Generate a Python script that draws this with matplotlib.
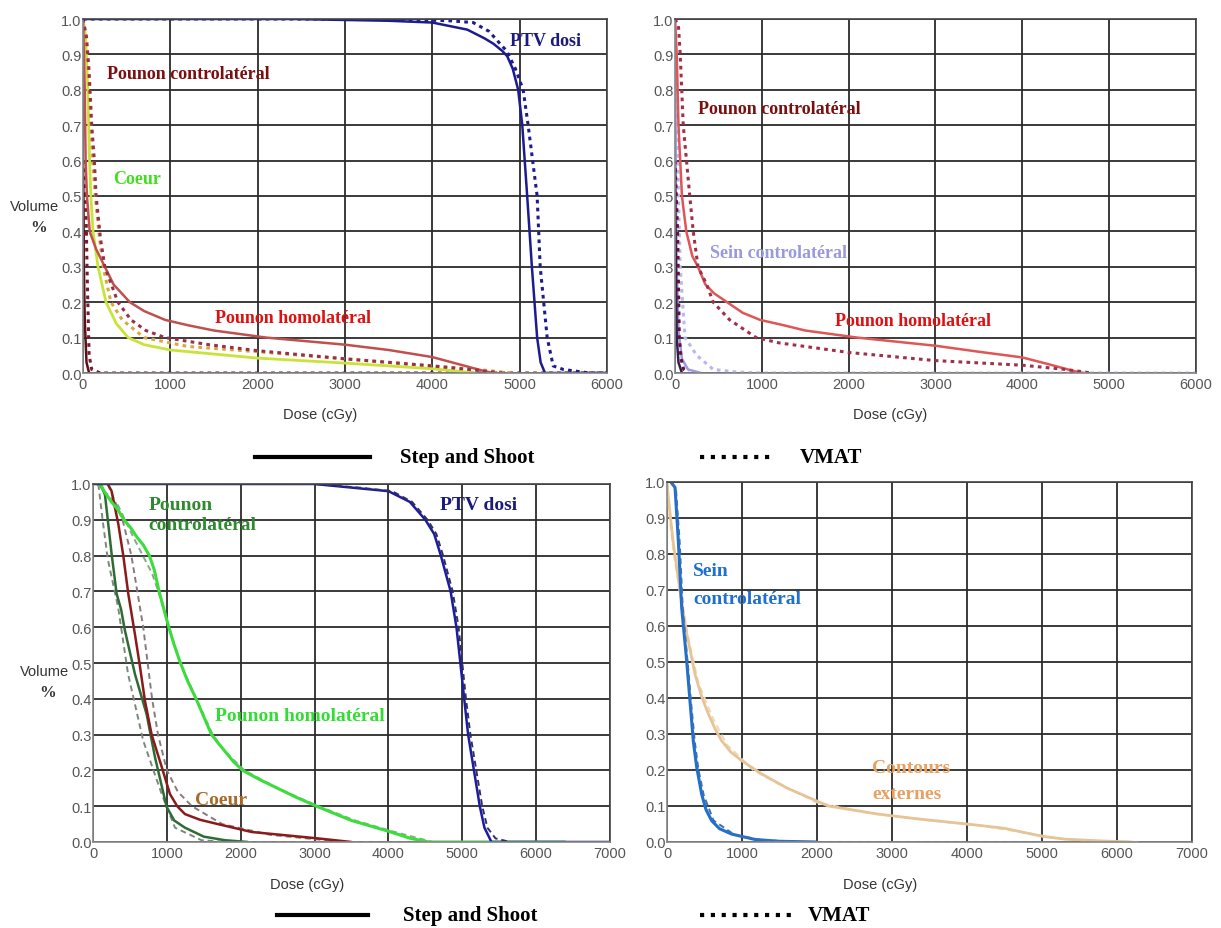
import matplotlib
matplotlib.use('Agg')
import matplotlib.pyplot as plt
from matplotlib.lines import Line2D

# ---- haut gauche (0 - 6000 cGy) ----
tl_ptv_ss_dose = [0, 2400, 3500, 4000, 4400, 4600, 4700, 4800, 4857, 4920, 4983, 5030, 5086, 5140, 5200, 5240, 5290, 6000]
tl_ptv_ss_vol = [1.0, 1.0, 0.995, 0.99, 0.97, 0.945, 0.93, 0.91, 0.895, 0.86, 0.80, 0.70, 0.50, 0.30, 0.10, 0.03, 0.0, 0.0]
tl_ptv_vm_dose = [0, 3500, 4200, 4467, 4650, 4776, 4850, 4950, 5040, 5097, 5200, 5235, 5315, 5384, 5500, 5800, 6000]
tl_ptv_vm_vol = [1.0, 1.0, 0.995, 0.99, 0.965, 0.93, 0.91, 0.86, 0.80, 0.70, 0.50, 0.30, 0.10, 0.02, 0.01, 0.0, 0.0]
tl_homo_ss_dose = [0, 10, 20, 30, 45, 77, 150, 250, 350, 536, 700, 940, 1200, 1500, 2100, 3000, 3500, 4000, 4300, 4600, 4700]
tl_homo_ss_vol = [1.0, 0.92, 0.8, 0.6, 0.5, 0.4, 0.35, 0.3, 0.25, 0.2, 0.175, 0.15, 0.135, 0.12, 0.10, 0.08, 0.065, 0.045, 0.025, 0.005, 0.0]
tl_homo_vm_dose = [0, 40, 70, 100, 130, 150, 200, 250, 400, 550, 720, 940, 1440, 2000, 3000, 4000, 4500, 4800]
tl_homo_vm_vol = [1.0, 0.95, 0.85, 0.7, 0.6, 0.5, 0.38, 0.3, 0.2, 0.15, 0.12, 0.1, 0.08, 0.063, 0.04, 0.02, 0.008, 0.0]
tl_coeur_ss_dose = [0, 30, 55, 75, 90, 115, 172, 264, 380, 517, 700, 1000, 2000, 3000, 3500, 4000, 4500]
tl_coeur_ss_vol = [1.0, 0.95, 0.8, 0.6, 0.5, 0.4, 0.3, 0.2, 0.14, 0.1, 0.08, 0.065, 0.042, 0.028, 0.02, 0.012, 0.0]
tl_coeur_vm_dose = [0, 50, 80, 110, 140, 180, 230, 320, 450, 700, 1200, 2000, 3000, 4000, 4600, 4900]
tl_coeur_vm_vol = [1.0, 0.9, 0.75, 0.6, 0.5, 0.4, 0.3, 0.2, 0.15, 0.1, 0.075, 0.06, 0.04, 0.02, 0.008, 0.0]
tl_contro_ss_dose = [0, 5, 10, 20, 40, 70]
tl_contro_ss_vol = [0.6, 0.5, 0.3, 0.15, 0.03, 0.0]
tl_contro_vm_dose = [0, 20, 35, 50, 70, 100, 200, 6000]
tl_contro_vm_vol = [0.6, 0.55, 0.45, 0.25, 0.05, 0.01, 0.0, 0.0]

# ---- haut droite (0 - 6000 cGy) ----
tr_homo_ss_dose = [0, 10, 20, 40, 60, 80, 130, 200, 265, 350, 450, 600, 780, 980, 1250, 1500, 2100, 3000, 3500, 4000, 4300, 4600, 4700]
tr_homo_ss_vol = [1.0, 0.95, 0.9, 0.7, 0.6, 0.5, 0.4, 0.33, 0.3, 0.25, 0.225, 0.2, 0.17, 0.15, 0.135, 0.12, 0.10, 0.077, 0.06, 0.044, 0.025, 0.005, 0.0]
tr_homo_vm_dose = [0, 40, 60, 95, 170, 210, 265, 365, 440, 630, 935, 1200, 2000, 3000, 4000, 4500, 4800]
tr_homo_vm_vol = [1.0, 0.98, 0.9, 0.7, 0.5, 0.4, 0.3, 0.25, 0.2, 0.15, 0.1, 0.085, 0.058, 0.035, 0.022, 0.01, 0.0]
tr_sein_ss_dose = [0, 5, 10, 20, 40, 80, 150, 300]
tr_sein_ss_vol = [1.0, 0.8, 0.5, 0.3, 0.12, 0.04, 0.01, 0.0]
tr_sein_vm_dose = [0, 20, 40, 60, 115, 250, 440, 700, 1000, 6000]
tr_sein_vm_vol = [1.0, 0.8, 0.5, 0.3, 0.1, 0.05, 0.01, 0.003, 0.0, 0.0]
tr_contro_ss_dose = [0, 10, 20, 40, 80]
tr_contro_ss_vol = [0.58, 0.3, 0.1, 0.03, 0.0]
tr_contro_vm_dose = [0, 30, 50, 70, 100, 150]
tr_contro_vm_vol = [0.6, 0.4, 0.1, 0.04, 0.01, 0.0]

# ---- bas gauche (0 - 7000 cGy) ----
bl_ptv_ss_dose = [0, 3000, 3500, 4000, 4290, 4500, 4620, 4710, 4842, 4921, 4974, 5026, 5079, 5158, 5237, 5300, 5395, 7000]
bl_ptv_ss_vol = [1.0, 1.0, 0.99, 0.98, 0.95, 0.9, 0.86, 0.8, 0.7, 0.6, 0.5, 0.4, 0.3, 0.2, 0.1, 0.04, 0.0, 0.0]
bl_ptv_vm_dose = [0, 3000, 3600, 4050, 4320, 4530, 4650, 4740, 4870, 4950, 5000, 5050, 5110, 5190, 5270, 5340, 5450, 5650]
bl_ptv_vm_vol = [1.0, 1.0, 0.99, 0.98, 0.95, 0.9, 0.86, 0.8, 0.7, 0.6, 0.5, 0.4, 0.3, 0.2, 0.1, 0.04, 0.01, 0.0]
bl_homo_ss_dose = [100, 150, 250, 330, 421, 520, 600, 680, 763, 830, 895, 960, 1026, 1100, 1184, 1280, 1395, 1500, 1605, 1700, 1800, 1900, 2026, 2250, 2500, 2750, 3026, 3500, 4000, 4300, 4550, 6400]
bl_homo_ss_vol = [1.0, 0.98, 0.95, 0.93, 0.9, 0.875, 0.85, 0.83, 0.8, 0.76, 0.7, 0.65, 0.6, 0.55, 0.5, 0.45, 0.4, 0.35, 0.3, 0.275, 0.25, 0.225, 0.2, 0.175, 0.15, 0.125, 0.1, 0.06, 0.03, 0.01, 0.0, 0.0]
bl_homo_vm_dose = [50, 200, 340, 550, 800, 900, 1000, 1180, 1400, 1620, 1800, 2050, 2500, 3050, 3550, 4050, 4600, 6400]
bl_homo_vm_vol = [1.0, 0.97, 0.94, 0.85, 0.75, 0.69, 0.62, 0.5, 0.4, 0.3, 0.25, 0.2, 0.15, 0.1, 0.06, 0.03, 0.0, 0.0]
bl_coeur_ss_dose = [200, 252, 343, 410, 478, 568, 636, 703, 794, 930, 1042, 1140, 1245, 1450, 1691, 2147, 3048, 3500]
bl_coeur_ss_vol = [1.0, 0.98, 0.888, 0.80, 0.693, 0.58, 0.49, 0.395, 0.30, 0.21, 0.134, 0.1, 0.078, 0.062, 0.05, 0.028, 0.01, 0.0]
bl_coeur_vm_dose = [200, 400, 520, 600, 680, 740, 800, 880, 1000, 1150, 1340, 1750, 2400, 3400]
bl_coeur_vm_vol = [1.0, 0.9, 0.8, 0.7, 0.6, 0.5, 0.4, 0.3, 0.2, 0.14, 0.1, 0.05, 0.02, 0.0]
bl_contro_ss_dose = [100, 162, 252, 320, 380, 433, 568, 726, 839, 997, 1100, 1245, 1500, 1786, 2100]
bl_contro_ss_vol = [1.0, 0.97, 0.805, 0.693, 0.65, 0.59, 0.469, 0.357, 0.237, 0.098, 0.06, 0.04, 0.015, 0.005, 0.0]
bl_contro_vm_dose = [72, 130, 200, 340, 474, 680, 930, 1110, 1470, 1800, 7000]
bl_contro_vm_vol = [1.0, 0.9, 0.79, 0.656, 0.47, 0.283, 0.134, 0.04, 0.005, 0.0, 0.0]

# ---- bas droite (0 - 7000 cGy) ----
br_sein_ss_dose = [50, 107, 151, 196, 262, 307, 351, 396, 462, 520, 596, 700, 862, 1173, 1500, 2000]
br_sein_ss_vol = [1.0, 0.985, 0.837, 0.65, 0.504, 0.39, 0.28, 0.208, 0.133, 0.09, 0.059, 0.037, 0.022, 0.007, 0.002, 0.0]
br_sein_vm_dose = [60, 120, 170, 210, 275, 320, 370, 420, 490, 620, 900, 1250, 1700, 5000]
br_sein_vm_vol = [1.0, 0.98, 0.83, 0.65, 0.5, 0.39, 0.28, 0.2, 0.13, 0.06, 0.02, 0.006, 0.0, 0.0]
br_ext_ss_dose = [0, 13, 80, 173, 262, 373, 460, 551, 640, 729, 850, 996, 1262, 1600, 2150, 2800, 3307, 4000, 4500, 5000, 5300, 5800, 6200]
br_ext_ss_vol = [1.0, 0.967, 0.837, 0.698, 0.58, 0.467, 0.405, 0.356, 0.315, 0.281, 0.25, 0.226, 0.189, 0.15, 0.1, 0.078, 0.065, 0.05, 0.038, 0.016, 0.008, 0.003, 0.0]
br_ext_vm_dose = [0, 20, 90, 200, 300, 420, 620, 800, 1150, 1500, 2000, 2700, 3500, 4200, 4800, 5200, 5600, 6300]
br_ext_vm_vol = [1.0, 0.93, 0.8, 0.66, 0.55, 0.44, 0.34, 0.27, 0.2, 0.16, 0.11, 0.08, 0.06, 0.045, 0.025, 0.01, 0.003, 0.0]

W, H = 1221, 929
fig = plt.figure(figsize=(W / 100, H / 100), dpi=100)
fig.patch.set_facecolor('white')

serif = 'Liberation Serif'
sans = 'Liberation Sans'


def panneau(x0, x1, ytop, ybot, xmax):
    ax = fig.add_axes([x0 / W, 1 - ybot / H, (x1 - x0) / W, (ybot - ytop) / H])
    ax.set_xlim(0, xmax)
    ax.set_ylim(0, 1)
    ax.set_xticks(range(0, xmax + 1, 1000))
    ax.set_yticks([i / 10 for i in range(11)])
    ax.set_yticklabels(['%.1f' % (i / 10) for i in range(11)])
    ax.grid(True, color='#2b2b2b', linewidth=1.3)
    ax.set_axisbelow(True)
    ax.tick_params(length=0, labelsize=10.5, labelcolor='#555555')
    ax.tick_params(axis='y', pad=1)
    ax.tick_params(axis='x', pad=3)
    for lab in ax.get_xticklabels() + ax.get_yticklabels():
        lab.set_family(sans)
    for s in ax.spines.values():
        s.set_color('#444444')
        s.set_linewidth(1.2)
    ax.spines['left'].set_color('#888888')
    ax.spines['bottom'].set_color('#888888')
    return ax


def ss(ax, d, v, c, lw=1.8):
    ax.plot(d, v, color=c, linewidth=lw, solid_capstyle='butt', solid_joinstyle='round')


def vm(ax, d, v, c, lw=2.2, dash=(1.2, 1.4)):
    ax.plot(d, v, color=c, linewidth=lw, linestyle=(0, dash))


# haut gauche
ax1 = panneau(83, 607, 20, 374, 6000)
vm(ax1, tl_contro_vm_dose, tl_contro_vm_vol, '#7a1a2a')
ss(ax1, tl_contro_ss_dose, tl_contro_ss_vol, '#5a0f1a')
ss(ax1, tl_coeur_ss_dose, tl_coeur_ss_vol, '#c9e33a', 2.0)
vm(ax1, tl_coeur_vm_dose, tl_coeur_vm_vol, '#d9a640')
ss(ax1, tl_homo_ss_dose, tl_homo_ss_vol, '#c0504d')
vm(ax1, tl_homo_vm_dose, tl_homo_vm_vol, '#9a3048')
ss(ax1, tl_ptv_ss_dose, tl_ptv_ss_vol, '#1c1c90')
vm(ax1, tl_ptv_vm_dose, tl_ptv_vm_vol, '#1c1c90')
ax1.text(275, 0.845, 'Pounon controlatéral', color='#7a0f0f', fontsize=13, fontweight='bold', family=serif, va='center')
ax1.text(350, 0.55, 'Coeur', color='#44dd22', fontsize=13, fontweight='bold', family=serif, va='center')
ax1.text(1512, 0.157, 'Pounon homolatéral', color='#dd1111', fontsize=13, fontweight='bold', family=serif, va='center')
ax1.text(4890, 0.94, 'PTV dosi', color='#1a1a80', fontsize=13, fontweight='bold', family=serif, va='center')

# haut droite
ax2 = panneau(675, 1196, 20, 374, 6000)
vm(ax2, tr_sein_vm_dose, tr_sein_vm_vol, '#b8b8f0')
ss(ax2, tr_sein_ss_dose, tr_sein_ss_vol, '#9a9ae8')
ss(ax2, tr_contro_ss_dose, tr_contro_ss_vol, '#302050')
vm(ax2, tr_contro_vm_dose, tr_contro_vm_vol, '#6a1030')
ss(ax2, tr_homo_ss_dose, tr_homo_ss_vol, '#e05555')
vm(ax2, tr_homo_vm_dose, tr_homo_vm_vol, '#a0304a')
ax2.text(265, 0.746, 'Pounon controlatéral', color='#7a0f0f', fontsize=13, fontweight='bold', family=serif, va='center')
ax2.text(403, 0.339, 'Sein controlatéral', color='#9999dd', fontsize=13, fontweight='bold', family=serif, va='center')
ax2.text(1843, 0.147, 'Pounon homolatéral', color='#dd1111', fontsize=13, fontweight='bold', family=serif, va='center')

# bas gauche
ax3 = panneau(93, 610, 485, 843, 7000)
vm(ax3, bl_contro_vm_dose, bl_contro_vm_vol, '#7a8a7a', 1.4, (3, 2))
vm(ax3, bl_coeur_vm_dose, bl_coeur_vm_vol, '#8a7a7a', 1.4, (3, 2))
vm(ax3, bl_homo_vm_dose, bl_homo_vm_vol, '#8aa88a', 1.4, (3, 2))
ss(ax3, bl_contro_ss_dose, bl_contro_ss_vol, '#2e6b35')
ss(ax3, bl_coeur_ss_dose, bl_coeur_ss_vol, '#8b1a1a')
ss(ax3, bl_homo_ss_dose, bl_homo_ss_vol, '#3ddc3d', 2.2)
ss(ax3, bl_ptv_ss_dose, bl_ptv_ss_vol, '#1c1ca0')
vm(ax3, bl_ptv_vm_dose, bl_ptv_vm_vol, '#303060', 1.4, (3, 2))
ax3.text(760, 0.944, 'Pounon', color='#2e8a2e', fontsize=14, fontweight='bold', family=serif, va='center')
ax3.text(744, 0.888, 'controlatéral', color='#2e8a2e', fontsize=14, fontweight='bold', family=serif, va='center')
ax3.text(4700, 0.944, 'PTV dosi', color='#1a1a80', fontsize=14, fontweight='bold', family=serif, va='center')
ax3.text(1650, 0.352, 'Pounon homolatéral', color='#33dd33', fontsize=14, fontweight='bold', family=serif, va='center')
ax3.text(1380, 0.12, 'Coeur', color='#a86a2a', fontsize=14, fontweight='bold', family=serif, va='center')

# bas droite
ax4 = panneau(667, 1192, 483, 843, 7000)
vm(ax4, br_ext_vm_dose, br_ext_vm_vol, '#f0d8b0', 1.5, (3, 2))
ss(ax4, br_ext_ss_dose, br_ext_ss_vol, '#e6c497', 2.0)
ss(ax4, br_sein_ss_dose, br_sein_ss_vol, '#1f6fd0', 2.2)
vm(ax4, br_sein_vm_dose, br_sein_vm_vol, '#3a70b0', 1.4, (3, 2))
ax4.text(347, 0.754, 'Sein', color='#1e6fd0', fontsize=14, fontweight='bold', family=serif, va='center')
ax4.text(347, 0.675, 'controlatéral', color='#1e6fd0', fontsize=14, fontweight='bold', family=serif, va='center')
ax4.text(2733, 0.208, 'Contours', color='#e8a060', fontsize=14, fontweight='bold', family=serif, va='center')
ax4.text(2733, 0.136, 'externes', color='#e8a060', fontsize=14, fontweight='bold', family=serif, va='center')

# libellés des axes
for xv, yv in [(35, 207), (44, 672)]:
    fig.text(xv / W, 1 - yv / H, 'Volume', fontsize=10.5, family=sans, color='#333333', ha='center', va='center')
    fig.text((xv + 4) / W, 1 - (yv + 21) / H, '%', fontsize=12, family=serif, fontweight='bold', color='#333333', ha='center', va='center')
for xv, yv in [(320, 415), (890, 415), (307, 885), (880, 885)]:
    fig.text(xv / W, 1 - yv / H, 'Dose (cGy)', fontsize=10.5, family=sans, color='#333333', ha='center', va='center')

# légendes
for yl, l0, l1, t0, d0, d1, v0 in [(458, 255, 370, 400, 700, 775, 800), (916, 277, 368, 403, 700, 791, 808)]:
    y = 1 - yl / H
    fig.add_artist(Line2D([l0 / W, l1 / W], [y, y], color='black', linewidth=3))
    fig.add_artist(Line2D([d0 / W, d1 / W], [y, y], color='black', linewidth=3, linestyle=(0, (1.0, 1.6))))
    fig.text(t0 / W, y, 'Step and Shoot', fontsize=15, family=serif, fontweight='bold', va='center')
    fig.text(v0 / W, y, 'VMAT', fontsize=15, family=serif, fontweight='bold', va='center')

plt.savefig('out.png', dpi=100)
